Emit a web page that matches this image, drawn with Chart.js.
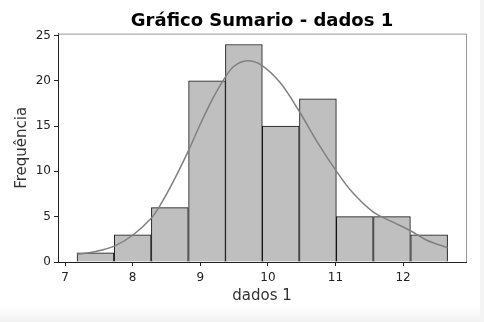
<!DOCTYPE html>
<html>
<head>
<meta charset="utf-8">
<script src="https://cdn.jsdelivr.net/npm/chart.js@4"></script>
<style>
  body { margin: 0; width: 484px; height: 322px; background: linear-gradient(#ffffff 0px, #ffffff 306px, #f2f2f2 322px); overflow: hidden; }
  #wrap { position: absolute; left: 0; top: 0; width: 480px; height: 309px; }
  #edge { position: absolute; left: 480px; top: 0; width: 4px; height: 322px; background: #f4f4f4; }
</style>
</head>
<body>
<div id="wrap"><canvas id="hist" width="480" height="309"></canvas></div>
<div id="edge"></div>
<script>
// histogram bins (centres) and counts
const binCenters = [7.45, 8.0, 8.55, 9.1, 9.645, 10.19, 10.74, 11.285, 11.835, 12.385];
const counts = [1, 3, 6, 20, 24, 15, 18, 5, 5, 3];

// kde curve
const kdeX = [7.18, 7.45, 7.73, 8.0, 8.27, 8.41, 8.61, 8.82, 9.0, 9.19, 9.37, 9.5, 9.69, 9.91, 10.18, 10.45, 10.75, 11.02, 11.26, 11.56, 11.85, 12.11, 12.35, 12.66];
const kdeY = [0.85, 1.15, 1.75, 2.95, 4.8, 6.3, 9.0, 12.2, 15.2, 18.1, 20.4, 21.6, 22.2, 21.7, 19.8, 16.8, 13.0, 9.95, 7.6, 5.5, 4.4, 3.45, 2.4, 1.57];

const xTicks = [7, 8, 9, 10, 11, 12];
const yTicks = [0, 5, 10, 15, 20, 25];

const font = "'DejaVu Sans', sans-serif";

// top / right spines in lighter grey
const spines = {
  id: "spines",
  afterDraw(chart) {
    const a = chart.chartArea, ctx = chart.ctx;
    ctx.save();
    ctx.strokeStyle = "#9a9a9a";
    ctx.lineWidth = 1;
    ctx.beginPath();
    ctx.moveTo(a.left, a.top + 0.5);
    ctx.lineTo(a.right + 0.5, a.top + 0.5);
    ctx.lineTo(a.right + 0.5, a.bottom);
    ctx.stroke();
    ctx.restore();
  }
};

new Chart(document.getElementById("hist"), {
  type: "bar",
  data: {
    datasets: [
      {
        type: "line",
        data: kdeX.map((x, i) => ({ x, y: kdeY[i] })),
        borderColor: "#808080",
        borderWidth: 1.5,
        pointRadius: 0,
        tension: 0.35,
        order: 0
      },
      {
        data: binCenters.map((x, i) => ({ x, y: counts[i] })),
        backgroundColor: "#bfbfbf",
        borderColor: "#111",
        borderWidth: 1,
        barPercentage: 1,
        categoryPercentage: 1,
        grouped: false,
        order: 1
      }
    ]
  },
  options: {
    responsive: false,
    animation: false,
    layout: { padding: { left: 0, right: 14, top: 0, bottom: 0 } },
    plugins: {
      legend: { display: false },
      tooltip: { enabled: false },
      title: {
        display: true,
        text: "Gráfico Sumario - dados 1",
        fullSize: false,
        color: "#000",
        font: { family: font, size: 18, weight: "bold" },
        padding: { top: 11, bottom: 1 }
      }
    },
    scales: {
      x: {
        type: "linear",
        offset: false,
        min: 6.896,
        max: 12.93,
        afterBuildTicks: s => { s.ticks = xTicks.map(v => ({ value: v })); },
        afterFit: s => { s.height = 47; },
        grid: { offset: false, drawOnChartArea: false, drawTicks: true, tickLength: 4, color: "#222" },
        border: { color: "#222" },
        ticks: { color: "#222", font: { family: font, size: 12 }, padding: 5, maxRotation: 0 },
        title: { display: true, text: "dados 1", color: "#333", font: { family: font, size: 15 }, padding: { top: 2 } }
      },
      y: {
        min: 0,
        max: 25.2,
        afterBuildTicks: s => { s.ticks = yTicks.map(v => ({ value: v })); },
        afterFit: s => { s.width = 58; },
        grid: { drawOnChartArea: false, drawTicks: true, tickLength: 4, color: "#222" },
        border: { color: "#222" },
        ticks: { color: "#222", font: { family: font, size: 12 }, padding: 3 },
        title: { display: true, text: "Frequência", color: "#333", font: { family: font, size: 15 }, padding: { top: 13, bottom: 0 } }
      }
    }
  },
  plugins: [spines]
});
</script>
</body>
</html>
